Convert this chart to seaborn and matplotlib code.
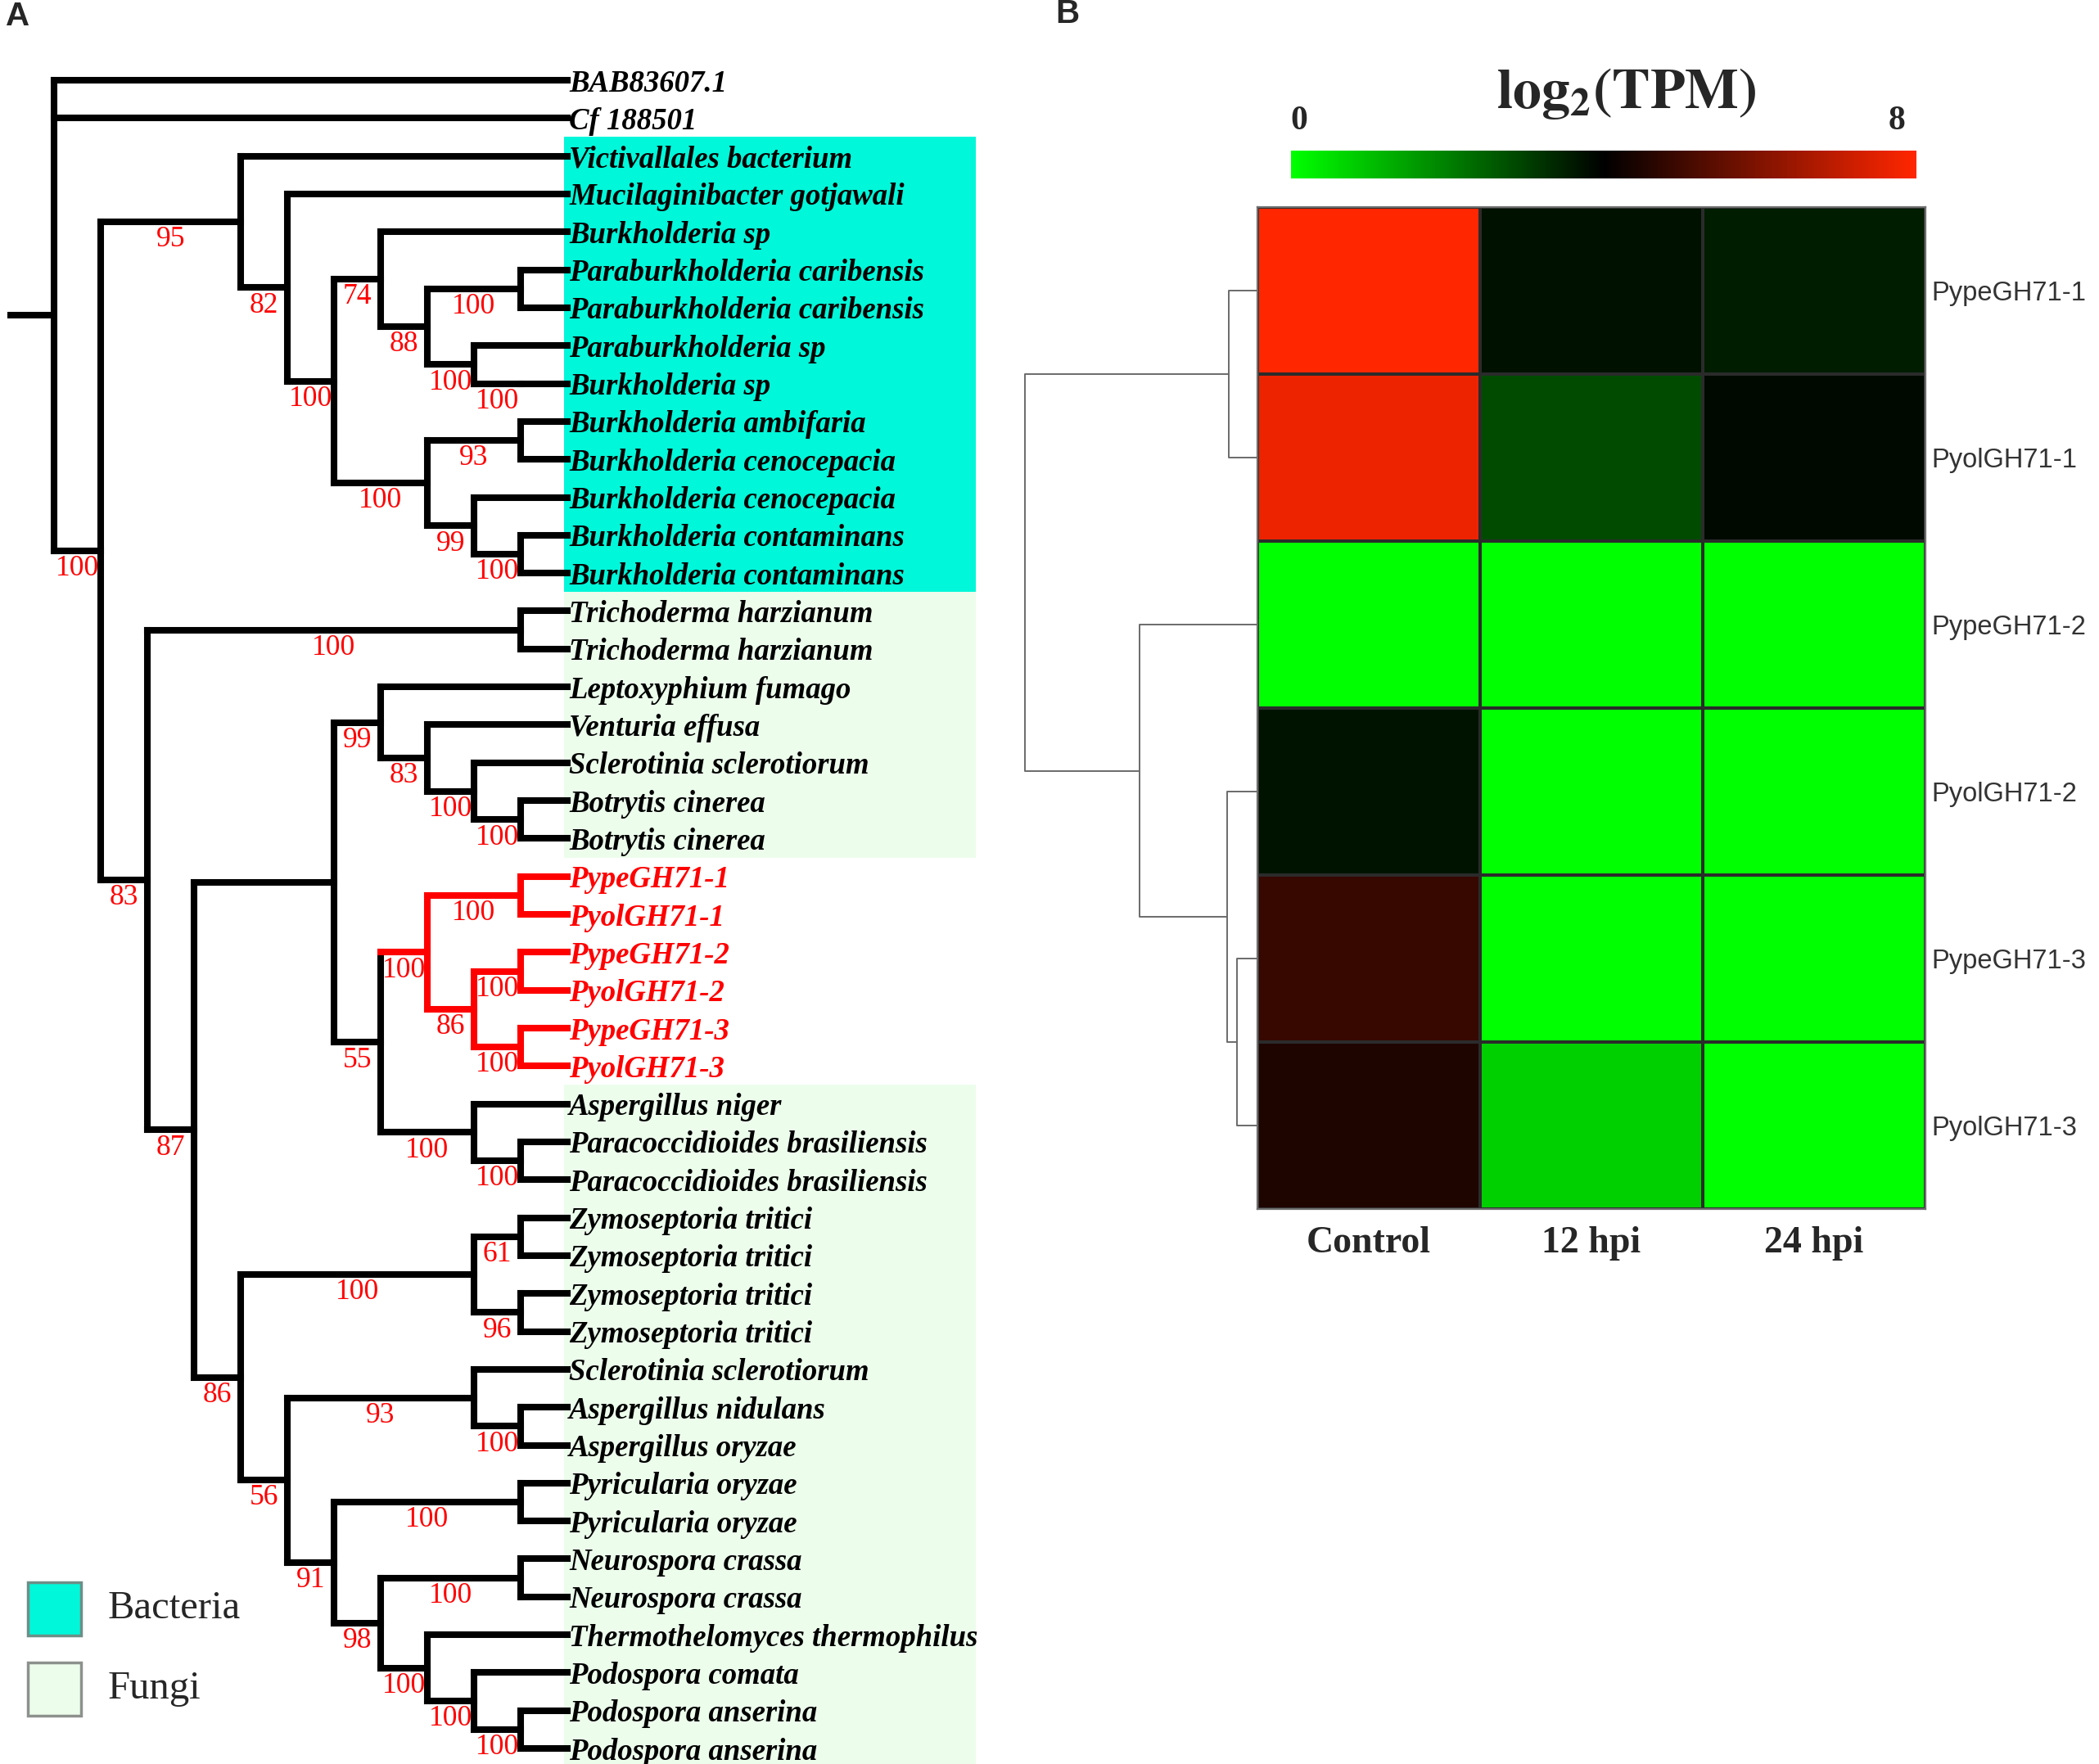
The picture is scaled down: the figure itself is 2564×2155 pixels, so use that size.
import numpy as np
import pandas as pd
import matplotlib
matplotlib.use("Agg")
import matplotlib.pyplot as plt
from matplotlib.colors import LinearSegmentedColormap
from matplotlib.patches import Rectangle
import seaborn as sns

sns.set_theme(style="white")
plt.rcParams['font.family'] = ['Liberation Serif', 'DejaVu Serif']
plt.rcParams['mathtext.fontset'] = 'stix'

W, H, DPI = 2564, 2155, 100

# ---------------- Panel A data ----------------
leaf_names = [
    "BAB83607.1", "Cf 188501", "Victivallales bacterium", "Mucilaginibacter gotjawali",
    "Burkholderia sp", "Paraburkholderia caribensis", "Paraburkholderia caribensis",
    "Paraburkholderia sp", "Burkholderia sp", "Burkholderia ambifaria",
    "Burkholderia cenocepacia", "Burkholderia cenocepacia", "Burkholderia contaminans",
    "Burkholderia contaminans", "Trichoderma harzianum", "Trichoderma harzianum",
    "Leptoxyphium fumago", "Venturia effusa", "Sclerotinia sclerotiorum",
    "Botrytis cinerea", "Botrytis cinerea", "PypeGH71-1", "PyolGH71-1", "PypeGH71-2",
    "PyolGH71-2", "PypeGH71-3", "PyolGH71-3", "Aspergillus niger",
    "Paracoccidioides brasiliensis", "Paracoccidioides brasiliensis",
    "Zymoseptoria tritici", "Zymoseptoria tritici", "Zymoseptoria tritici",
    "Zymoseptoria tritici", "Sclerotinia sclerotiorum", "Aspergillus nidulans",
    "Aspergillus oryzae", "Pyricularia oryzae", "Pyricularia oryzae",
    "Neurospora crassa", "Neurospora crassa", "Thermothelomyces thermophilus",
    "Podospora comata", "Podospora anserina", "Podospora anserina",
]
leaf_level = 11
highlight_clade = "Q"
bacteria_leaves = (2, 13)
fungi_leaf_ranges = [(14, 20), (27, 44)]

node_names = ["R", "A", "B", "C", "D", "E", "E2", "E3", "E4", "X", "G", "H", "I", "J",
              "F", "K", "L", "M", "N", "O", "O2", "O3", "P", "Q", "Q1", "Q2", "Q3", "Q4",
              "S", "S2", "Z", "Y", "Y1", "Y2", "W", "V", "V2", "U", "T", "T2", "T3", "T4",
              "T5", "T6"]
node_children = [[0, 1, "A"], ["B", "F"], [2, "C"], [3, "D"], ["E", "G"], [4, "E2"],
                 ["E3", "E4"], [5, 6], [7, "X"], [8], ["H", "I"], [9, 10], [11, "J"], [12, 13],
                 ["K", "L"], [14, 15], ["M", "Z"], ["N", "P"], [16, "O"], [17, "O2"],
                 [18, "O3"], [19, 20], ["Q", "S"], ["Q1", "Q2"], [21, 22], ["Q3", "Q4"],
                 [23, 24], [25, 26], [27, "S2"], [28, 29], ["Y", "W"], ["Y1", "Y2"], [30, 31],
                 [32, 33], ["V", "U"], [34, "V2"], [35, 36], ["T", "T2"], [37, 38],
                 ["T3", "T4"], [39, 40], [41, "T5"], [42, "T6"], [43, 44]]
node_levels = [0, 1, 4, 5, 6, 7, 8, 10, 9, 10, 8, 10, 9, 10,
               2, 10, 3, 6, 7, 8, 9, 10, 7, 8, 10, 9, 10, 10,
               9, 10, 4, 9, 10, 10, 5, 9, 10, 6, 10, 7, 10, 8, 9, 10]
node_support = [None, 100, 95, 82, 100, 74, 88, 100, 100, 100, 100, 93, 99, 100,
                83, 100, 87, None, 99, 83, 100, 100, 55, 100, 100, 86, 100, 100,
                100, 100, 86, 100, 61, 96, 56, 93, 100, 91, 100, 98, 100, 100, 100, 100]

# ---------------- Panel B data ----------------
genes = ["PypeGH71-1", "PyolGH71-1", "PypeGH71-2", "PyolGH71-2", "PypeGH71-3", "PyolGH71-3"]
samples = ["Control", "12 hpi", "24 hpi"]
control = [8.0, 7.7, 0.0, 3.69, 4.86, 4.47]
hpi12 = [3.72, 2.82, 0.0, 0.0, 0.0, 0.78]
hpi24 = [3.56, 3.87, 0.0, 0.0, 0.0, 0.0]
# row linkage: [cluster a, cluster b, height]; new clusters numbered from 6
row_linkage = [[4, 5, 0.88], [3, 6, 1.32], [0, 1, 1.23], [2, 7, 5.07], [8, 9, 10.0]]

# ---------------- figure ----------------
fig = plt.figure(figsize=(W / DPI, H / DPI), dpi=DPI)
ov = fig.add_axes([0, 0, 1, 1])
ov.set_xlim(0, W); ov.set_ylim(H, 0); ov.axis("off")

# ---- tree axes ----
TX0, TSTEP = 66.0, 57.0
TY0, TYSTEP = 98.0, 46.32
TREE_W = 1230
axt = fig.add_axes([0, 0, TREE_W / W, 1])
axt.set_xlim((0 - TX0) / TSTEP, (TREE_W - TX0) / TSTEP)
axt.set_ylim((H - TY0) / TYSTEP, (0 - TY0) / TYSTEP)
axt.axis("off")

idx = {n: i for i, n in enumerate(node_names)}
ypos = {}
def node_y(n):
    if isinstance(n, int):
        return float(n)
    if n in ypos:
        return ypos[n]
    ch = node_children[idx[n]]
    y = (node_y(ch[0]) + node_y(ch[-1])) / 2.0
    ypos[n] = y
    return y

def level_of(n):
    return leaf_level if isinstance(n, int) else node_levels[idx[n]]

red_set = set()
def mark_red(n):
    red_set.add(n)
    if not isinstance(n, int):
        for c in node_children[idx[n]]:
            mark_red(c)
mark_red(highlight_clade)

LW = 5.8
RED = "#FF0000"
for n in node_names:
    lv = level_of(n)
    ch = node_children[idx[n]]
    col = RED if n in red_set else "black"
    if len(ch) > 1:
        axt.plot([lv, lv], [node_y(ch[0]), node_y(ch[-1])], color=col, lw=LW,
                 solid_capstyle="projecting", zorder=3)
    for c in ch:
        cc = RED if c in red_set else "black"
        axt.plot([lv, level_of(c)], [node_y(c), node_y(c)], color=cc, lw=LW,
                 solid_capstyle="projecting", zorder=3)
        if not isinstance(c, int):
            sup = node_support[idx[c]]
            if sup is not None:
                axt.text((lv + level_of(c)) / 2.0, node_y(c) + 0.47, str(sup), color=RED,
                         fontsize=25.5, ha="center", va="center", zorder=4,
                         family=["Liberation Serif"])
# root stub
axt.plot([-1.0, 0], [node_y("R"), node_y("R")], color="black", lw=LW,
         solid_capstyle="butt", zorder=3)

for i, name in enumerate(leaf_names):
    axt.text(leaf_level + 0.04, i, name, fontsize=26.5, fontweight="bold", fontstyle="italic",
             color=RED if i in red_set else "black", ha="left", va="center_baseline",
             family=["Liberation Serif"], zorder=4)

# background blocks
RX0, RX1 = (689 - TX0) / TSTEP, (1192 - TX0) / TSTEP
BAC = "#00F7D9"
FUN = "#ECFDEC"
axt.add_patch(Rectangle((RX0, bacteria_leaves[0] - 0.5), RX1 - RX0,
                        bacteria_leaves[1] - bacteria_leaves[0] + 1, facecolor=BAC,
                        edgecolor="none", zorder=0))
for a, b in fungi_leaf_ranges:
    axt.add_patch(Rectangle((RX0, a - 0.5), RX1 - RX0, b - a + 1, facecolor=FUN,
                            edgecolor="none", zorder=0))

# legend
ov.add_patch(Rectangle((34, 1933), 65, 65, facecolor=BAC, edgecolor="#6d8f87", lw=2.5))
ov.add_patch(Rectangle((34, 2031), 65, 65, facecolor=FUN, edgecolor="#8d918d", lw=2.5))
ov.text(132, 1965, "Bacteria", fontsize=35, ha="left", va="center", family=["Liberation Serif"])
ov.text(132, 2063, "Fungi", fontsize=35, ha="left", va="center", family=["Liberation Serif"])

# panel letters
ov.text(22, 20, "A", fontsize=29, fontweight="bold", ha="center", va="center",
        family=["Liberation Sans"])
ov.text(1304, 17, "B", fontsize=29, fontweight="bold", ha="center", va="center",
        family=["Liberation Sans"])

# ---------------- Panel B ----------------
HM_L, HM_R, HM_T, HM_B = 1536, 2352, 253, 1477
axh = fig.add_axes([HM_L / W, 1 - HM_B / H, (HM_R - HM_L) / W, (HM_B - HM_T) / H])
CB_L, CB_R, CB_T, CB_B = 1577, 2341, 184, 218
cax = fig.add_axes([CB_L / W, 1 - CB_B / H, (CB_R - CB_L) / W, (CB_B - CB_T) / H])

df = pd.DataFrame({samples[0]: control, samples[1]: hpi12, samples[2]: hpi24}, index=genes)
cmap = LinearSegmentedColormap.from_list("gkr", ["#00FF00", "#000000", "#FF2600"])
sns.heatmap(df, ax=axh, cmap=cmap, vmin=0, vmax=8, cbar_ax=cax,
            cbar_kws={"orientation": "horizontal"}, linewidths=1.6, linecolor="#2b2b2b")
for sp in axh.spines.values():
    sp.set_visible(True); sp.set_color("#6e6e6e"); sp.set_linewidth(1.6)
axh.yaxis.tick_right()
axh.set_yticklabels(genes, rotation=0, fontsize=23.5, color="#333333",
                    family=["Liberation Sans"])
axh.set_xticklabels(samples, rotation=0, fontsize=33, fontweight="bold",
                    family=["Liberation Serif"])
axh.tick_params(axis="y", length=0, pad=5)
axh.tick_params(axis="x", length=0, pad=15)
axh.set_xlabel(""); axh.set_ylabel("")

cb = axh.collections[0].colorbar
cb.outline.set_visible(False)
cax.set_xticks([])
cax.text(0.1, 2.05, "0", transform=cax.get_xaxis_transform(), fontsize=30,
         fontweight="bold", ha="center", va="center", family=["Liberation Serif"])
cax.text(7.75, 2.05, "8", transform=cax.get_xaxis_transform(), fontsize=30,
         fontweight="bold", ha="center", va="center", family=["Liberation Serif"])
ov.text(1987, 114, r"$\mathbf{log_2(TPM)}$", fontsize=50, ha="center", va="center")

# dendrogram
DG_L = 1240
axd = fig.add_axes([DG_L / W, 1 - HM_B / H, (HM_L - DG_L) / W, (HM_B - HM_T) / H])
px_per_unit = 28.4
axd.set_xlim((HM_L - DG_L) / px_per_unit, 0)
axd.set_ylim(len(genes), 0)
axd.axis("off")
pos = {i: i + 0.5 for i in range(len(genes))}
hgt = {i: 0.0 for i in range(len(genes))}
nxt = len(genes)
for a, b, h in row_linkage:
    axd.plot([hgt[a], h, h, hgt[b]], [pos[a], pos[a], pos[b], pos[b]],
             color="#6a6a6a", lw=1.4, solid_capstyle="butt")
    pos[nxt] = (pos[a] + pos[b]) / 2.0
    hgt[nxt] = h
    nxt += 1

fig.savefig("out.png", dpi=DPI)
